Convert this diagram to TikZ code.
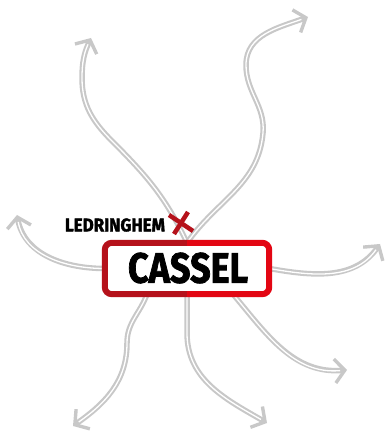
\documentclass[tikz,border=0pt]{standalone}
\usepackage{fontspec}
\setmainfont{Fira Sans}
\newfontfamily\heavyfont[FakeBold=2]{Fira Sans}
\usetikzlibrary{arrows.meta}
\definecolor{lgray}{HTML}{C8C8C8}
\definecolor{dred}{HTML}{B5121B}
\definecolor{bred}{HTML}{E30613}
\begin{document}
\begin{tikzpicture}[x=1pt,y=1pt,
  road/.style={draw=lgray, line width=5.5pt,
    -{Straight Barb[length=10pt,width=24pt,line width=3.4pt]},
    postaction={draw=white, line width=1.3pt, -, shorten >=7pt}},
  boxborder/.style={line width=6pt, rounded corners=7pt, fill=white},
  xstroke/.style={draw=dred, line width=4.5pt}]
\useasboundingbox (0,0) rectangle (384,433);
% anchor box (invisible) for connectors
\node (box) [minimum width=164pt, minimum height=51pt, inner sep=0pt] at (187,164.5) {};
% free ends and waypoints
\coordinate (tl1) at (112,292);
\coordinate (tl2) at (82,355);
\coordinate (tlend) at (91,395);
\coordinate (tr1) at (263,300);
\coordinate (tr2) at (246,368);
\coordinate (trend) at (308,416);
\coordinate (lend) at (17,218);
\coordinate (rend) at (380,189);
\coordinate (bl1) at (127,90);
\coordinate (blend) at (73,7);
\coordinate (bm1) at (187,100);
\coordinate (bmend) at (267,10);
\coordinate (brend) at (347,63);
% roads
\draw[road] (box.north) to[out=115,in=-45] (tl1) to[out=135,in=-90] (tl2) to[out=90,in=-115] (tlend);
\draw[road] (box.north) to[out=55,in=-95] (tr1) to[out=85,in=-90] (tr2) to[out=90,in=200] (trend);
\draw[road] (box.west) to[out=180,in=-80] (lend);
\draw[road] (box.east) to[out=-10,in=-125] (rend);
\draw[road] ([xshift=-40pt]box.south) to[out=-110,in=90] (bl1) to[out=-90,in=35] (blend);
\draw[road] (box.south) to[out=-90,in=90] (bm1) to[out=-90,in=150] (bmend);
\draw[road] ([xshift=46pt]box.south) to[out=-50,in=185] (brend);
% sign
\begin{scope}
  \clip (0,0) rectangle (187,433);
  \draw[boxborder, draw=dred] (box.south west) rectangle (box.north east);
\end{scope}
\begin{scope}
  \clip (187,0) rectangle (384,433);
  \draw[boxborder, draw=bred] (box.south west) rectangle (box.north east);
\end{scope}
\node (cassel) at (188,165) {\resizebox{120pt}{30pt}{\heavyfont\bfseries CASSEL}};
\node (led) at (115,208) {\resizebox{100pt}{13pt}{\heavyfont\bfseries LEDRINGHEM}};
\coordinate (xm) at (181,210);
\draw[xstroke] ([shift={(-12,8)}]xm) -- ([shift={(12,-8)}]xm);
\draw[xstroke] ([shift={(7,11)}]xm) -- ([shift={(-7,-11)}]xm);
\end{tikzpicture}
\end{document}
